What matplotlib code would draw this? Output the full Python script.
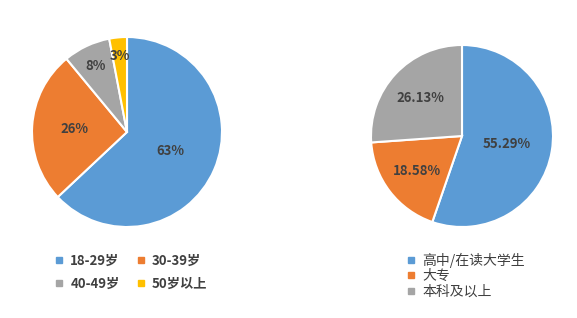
import matplotlib
matplotlib.use("Agg")
import matplotlib.pyplot as plt
from matplotlib.lines import Line2D
import numpy as np

plt.rcParams['font.family'] = ['Noto Sans CJK SC', 'DejaVu Sans']

age_labels = ['18-29岁', '30-39岁', '40-49岁', '50岁以上']
age_values = [63, 26, 8, 3]
edu_labels = ['高中/在读大学生', '大专', '本科及以上']
edu_values = [55.29, 18.58, 26.13]

colors4 = ['#5B9BD5', '#ED7D31', '#A5A5A5', '#FFC000']
text_color = '#404040'

W, H = 577, 318
fig = plt.figure(figsize=(W / 100, H / 100), dpi=100)
fig.patch.set_facecolor('white')

def axes_px(cx, cy, r):
    return fig.add_axes([(cx - r) / W, (H - cy - r) / H, 2 * r / W, 2 * r / H])

# Left pie
ax1 = axes_px(127, 132, 95)
wedges1, _ = ax1.pie(age_values, colors=colors4, startangle=90, counterclock=False,
                     wedgeprops=dict(edgecolor='white', linewidth=1.5))
dist1 = [0.5, 0.55, 0.77, 0.8]
for w, v, d in zip(wedges1, age_values, dist1):
    ang = np.deg2rad((w.theta1 + w.theta2) / 2)
    ax1.text(d * np.cos(ang), d * np.sin(ang), f'{v}%', ha='center', va='center',
             fontsize=9.5, fontweight='bold', color=text_color)
ax1.set_xlim(-1, 1); ax1.set_ylim(-1, 1); ax1.set_aspect('equal')

# Right pie
ax2 = axes_px(462, 136, 91)
wedges2, _ = ax2.pie(edu_values, colors=colors4[:3], startangle=90, counterclock=False,
                     wedgeprops=dict(edgecolor='white', linewidth=1.5))
dist2 = [0.5, 0.63, 0.62]
for w, v, d in zip(wedges2, edu_values, dist2):
    ang = np.deg2rad((w.theta1 + w.theta2) / 2)
    ax2.text(d * np.cos(ang), d * np.sin(ang), f'{v:.2f}%', ha='center', va='center',
             fontsize=9.5, fontweight='bold', color=text_color)
ax2.set_xlim(-1, 1); ax2.set_ylim(-1, 1); ax2.set_aspect('equal')

def handles(labels, cols):
    return [Line2D([], [], marker='s', linestyle='none', markersize=5,
                   markerfacecolor=c, markeredgecolor=c, label=l) for l, c in zip(labels, cols)]

h1 = handles(age_labels, colors4)
# row-wise order for a 2-column legend
h1 = [h1[0], h1[2], h1[1], h1[3]]
leg1 = fig.legend(handles=h1, ncol=2, loc='upper left',
                  bbox_to_anchor=(42 / W, 1 - 242 / H), frameon=False,
                  prop=dict(size=9.5, weight='bold'), labelcolor=text_color,
                  handlelength=0.8, handletextpad=0.45, columnspacing=1.2, labelspacing=0.65)

leg2 = fig.legend(handles=handles(edu_labels, colors4[:3]), ncol=1, loc='upper left',
                  bbox_to_anchor=(393 / W, 1 - 240 / H), frameon=False,
                  prop=dict(size=10), labelcolor=text_color,
                  handlelength=0.8, handletextpad=0.4, labelspacing=0.12)

fig.savefig('out.png', dpi=100, facecolor='white')
